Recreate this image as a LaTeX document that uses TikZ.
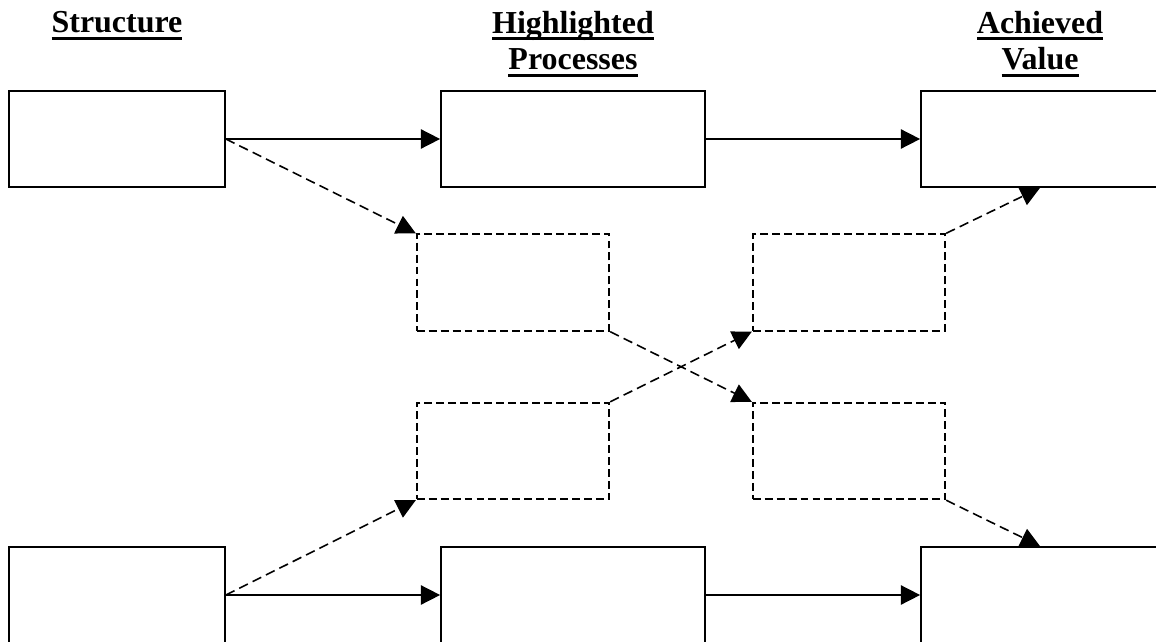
\documentclass[tikz,border=0pt]{standalone}
\usepackage{fontspec}
\setmainfont{Liberation Serif}
\usetikzlibrary{arrows.meta, positioning}
\newcommand{\ulword}[1]{\setbox0=\hbox{#1}\rlap{\rule[-4.2pt]{\wd0}{1.9pt}}\box0}

\begin{document}
\begin{tikzpicture}[x=0.02cm, y=-0.02cm,
  solidbox/.style={draw, line width=1pt, minimum height=1.92cm, inner sep=0pt},
  dashbox/.style={draw, line width=1.1pt, dash pattern=on 4.5pt off 2.3pt,
    minimum width=3.85cm, minimum height=1.93cm, inner sep=0pt},
  heading/.style={font=\fontsize{18.2}{21}\selectfont\bfseries, align=center,
    anchor=base, inner sep=0pt},
  link/.style={line width=0.9pt, -{Triangle[length=11pt, width=11pt]}},
  dashlink/.style={link, dash pattern=on 5.5pt off 3pt}]
\useasboundingbox (0,0) rectangle (1156,642);
\clip (0,0) rectangle (1156,642);

% Headings
\node[heading] (hS) at (117,33) {\ulword{Structure}};
\node[heading] (hP) at (573,70) {\ulword{Highlighted}\\\ulword{Processes}};
\node[heading] (hV) at (1040,70) {\ulword{Achieved}\\\ulword{Value}};

% Top row
\node[solidbox, minimum width=4.32cm] (sL) at (117,139) {};
\node[solidbox, minimum width=5.28cm] (sM) at (573,139) {};
\node[solidbox, minimum width=4.76cm] (sR) at (1040,139) {};

% Bottom row
\node[solidbox, minimum width=4.32cm] (bL) at (117,595) {};
\node[solidbox, minimum width=5.28cm] (bM) at (573,595) {};
\node[solidbox, minimum width=4.76cm] (bR) at (1040,595) {};

% Dashed boxes
\node[dashbox] (d1) at (513,282.5) {};
\node[dashbox] (d2) at (849,282.5) {};
\node[dashbox] (d3) at (513,451) {};
\node[dashbox] (d4) at (849,451) {};

% Solid links
\draw[link] (sL.east) -- (sM.west);
\draw[link] (sM.east) -- (sR.west);
\draw[link] (bL.east) -- (bM.west);
\draw[link] (bM.east) -- (bR.west);

% Dashed links
\draw[dashlink] (sL.east) -- (d1.north west);
\draw[dashlink] (d1.south east) -- (d4.north west);
\draw[dashlink] (d3.north east) -- (d2.south west);
\draw[dashlink] (bL.east) -- (d3.south west);
\draw[dashlink] (d2.north east) -- (sR.south);
\draw[dashlink] (d4.south east) -- (bR.north);
\end{tikzpicture}
\end{document}
